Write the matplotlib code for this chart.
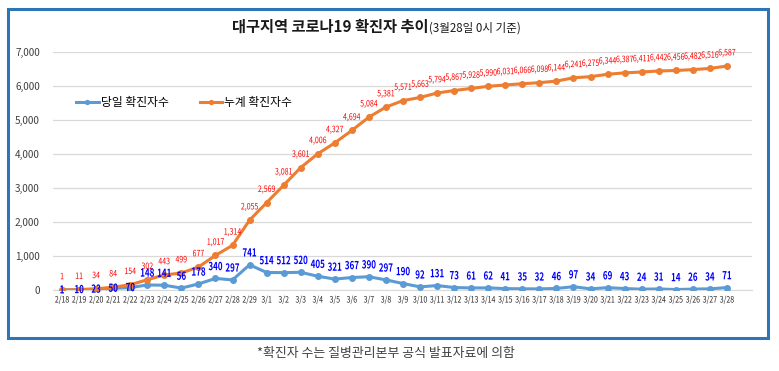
import matplotlib.pyplot as plt
import matplotlib.patches as patches
from matplotlib.patheffects import AbstractPathEffect
from matplotlib.transforms import Affine2D
from matplotlib.ticker import FuncFormatter

plt.rcParams['font.family'] = ['Noto Sans CJK KR', 'DejaVu Sans']

dates = ['2/18', '2/19', '2/20', '2/21', '2/22', '2/23', '2/24', '2/25', '2/26', '2/27',
         '2/28', '2/29', '3/1', '3/2', '3/3', '3/4', '3/5', '3/6', '3/7', '3/8',
         '3/9', '3/10', '3/11', '3/12', '3/13', '3/14', '3/15', '3/16', '3/17', '3/18',
         '3/19', '3/20', '3/21', '3/22', '3/23', '3/24', '3/25', '3/26', '3/27', '3/28']
daily = [1, 10, 23, 50, 70, 148, 141, 56, 178, 340,
         297, 741, 514, 512, 520, 405, 321, 367, 390, 297,
         190, 92, 131, 73, 61, 62, 41, 35, 32, 46,
         97, 34, 69, 43, 24, 31, 14, 26, 34, 71]
cumulative = [1, 11, 34, 84, 154, 302, 443, 499, 677, 1017,
              1314, 2055, 2569, 3081, 3601, 4006, 4327, 4694, 5084, 5381,
              5571, 5663, 5794, 5867, 5928, 5990, 6031, 6066, 6098, 6144,
              6241, 6275, 6344, 6387, 6411, 6442, 6456, 6482, 6516, 6587]

c_daily = '#5B9BD5'
c_cum = '#ED7D31'


# 글자를 가로로 좁게 그리기 (원본의 좁은 글꼴 흉내)
class Condense(AbstractPathEffect):
    def __init__(self, sx):
        super().__init__()
        self.sx = sx

    def draw_path(self, renderer, gc, tpath, affine, rgbFace=None):
        ext = tpath.get_extents()
        cx = (ext.x0 + ext.x1) / 2
        t = Affine2D().translate(-cx, 0).scale(self.sx, 1).translate(cx, 0)
        renderer.draw_path(gc, tpath, t + affine, rgbFace)


fig = plt.figure(figsize=(7.79, 3.71), dpi=100)
ax = fig.add_axes([53 / 779, 1 - 290 / 371, 699 / 779, 238 / 371])

x = list(range(len(dates)))
ax.plot(x, daily, color=c_daily, lw=2.2, marker='o', ms=4, label='당일 확진자수', zorder=3)
ax.plot(x, cumulative, color=c_cum, lw=2.2, marker='o', ms=4, label='누계 확진자수', zorder=3)

# 데이터 레이블
for i, v in enumerate(cumulative):
    ax.annotate(f'{v:,}', (i, v), xytext=(0, 9.5), textcoords='offset points',
                ha='center', va='center', fontsize=6.3, color='#FF0000',
                path_effects=[Condense(0.8)], zorder=4)
for i, v in enumerate(daily):
    dy = 0 if i < 5 else 8.5
    ax.annotate(f'{v}', (i, v), xytext=(0, dy), textcoords='offset points',
                ha='center', va='center', fontsize=8, fontweight='bold',
                color='#0000FF', path_effects=[Condense(0.72)], zorder=5)

ax.set_xlim(-0.53, 40.47)
ax.set_ylim(0, 7000)
ax.set_yticks(range(0, 7001, 1000))
ax.yaxis.set_major_formatter(FuncFormatter(lambda v, p: f'{int(v):,}'))
ax.set_xticks(x)
ax.set_xticklabels(dates, fontsize=6.3, color='#262626')
for lab in ax.get_xticklabels():
    lab.set_path_effects([Condense(0.8)])
ax.tick_params(axis='y', labelsize=7.2, colors='#404040', length=0, pad=9.5)
ax.tick_params(axis='x', length=0, pad=4)
ax.grid(axis='y', color='#D9D9D9', lw=0.9)
ax.set_axisbelow(True)
for s in ['top', 'right', 'left']:
    ax.spines[s].set_visible(False)
ax.spines['bottom'].set_color('#D9D9D9')

ax.legend(loc='center left', bbox_to_anchor=(0.018, 0.786), ncol=2, frameon=False,
          fontsize=8.5, handlelength=1.9, columnspacing=2.6, handletextpad=0.2,
          markerscale=0.7)

fig.text(429 / 779, 1 - 27 / 371, '대구지역 코로나19 확진자 추이', ha='right', va='center',
         fontsize=11, fontweight='bold', color='#1a1a1a')
fig.text(429 / 779, 1 - 28 / 371, '(3월28일 0시 기준)', ha='left', va='center',
         fontsize=8.3, color='#1a1a1a')

fig.text(386 / 779, 1 - 353 / 371, '*확진자 수는 질병관리본부 공식 발표자료에 의함',
         ha='center', va='center', fontsize=9.3, color='#404040')

frame = patches.Rectangle((8 / 779, 1 - 338 / 371), 760 / 779, 329 / 371,
                          transform=fig.transFigure, fill=False,
                          edgecolor='#2E75B6', lw=2.2, zorder=0)
fig.patches.append(frame)

fig.savefig('out.png', dpi=100)
